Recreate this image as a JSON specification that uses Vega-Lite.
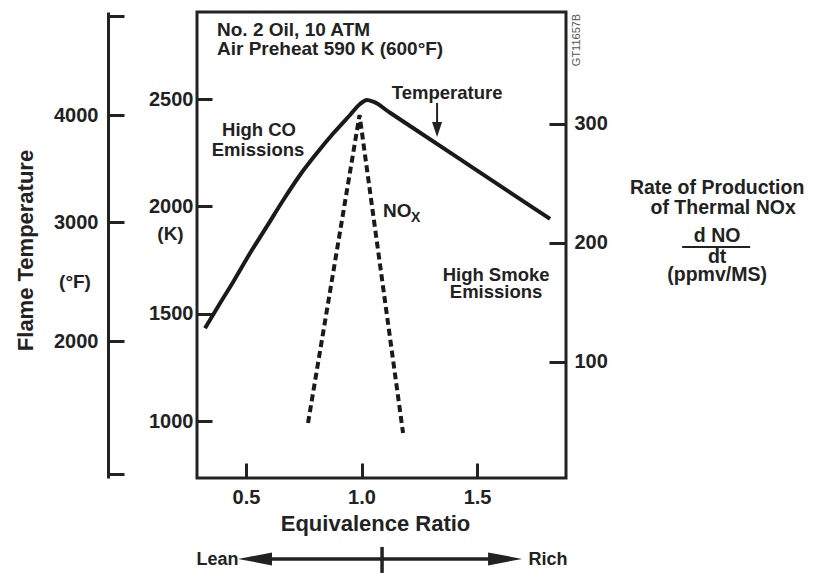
{
  "$schema": "https://vega.github.io/schema/vega-lite/v6.json",
  "width": 369,
  "height": 466,
  "autosize": {"type": "none"},
  "padding": {"left": 197, "top": 12, "right": 264, "bottom": 95},
  "background": "white",
  "config": {
    "view": {"stroke": "#222", "strokeWidth": 3},
    "font": "Liberation Sans",
    "axis": {
      "labelFont": "Liberation Sans", "labelFontWeight": "bold", "labelFontSize": 20, "labelColor": "#222",
      "titleFont": "Liberation Sans", "titleFontWeight": "bold", "titleColor": "#222",
      "tickColor": "#222", "tickWidth": 3, "domainColor": "#222", "domainWidth": 3, "grid": false
    },
    "text": {"font": "Liberation Sans", "fontWeight": "bold", "color": "#222"}
  },
  "datasets": {
    "temp": [
      {"phi": 0.3226, "K": 1433.6}, {"phi": 0.3876, "K": 1549.9}, {"phi": 0.4451, "K": 1650.3},
      {"phi": 0.5174, "K": 1782.4}, {"phi": 0.5897, "K": 1906.1}, {"phi": 0.6616, "K": 2030.3},
      {"phi": 0.7339, "K": 2146.6}, {"phi": 0.8062, "K": 2247.5}, {"phi": 0.8781, "K": 2340.5},
      {"phi": 0.9503, "K": 2425.6}, {"phi": 0.9936, "K": 2476.8}, {"phi": 1.0226, "K": 2495.4},
      {"phi": 1.0512, "K": 2487.5}, {"phi": 1.1235, "K": 2435.9}, {"phi": 1.4698, "K": 2188.9},
      {"phi": 1.8161, "K": 1942}
    ],
    "nox": [
      {"phi": 0.7685, "R": 48.7}, {"phi": 0.9915, "R": 307.5}, {"phi": 1.1798, "R": 40.3}
    ],
    "annCenter": [
      {"text": "High CO", "phi": 0.5564, "K": 2356},
      {"text": "Emissions", "phi": 0.552, "K": 2263},
      {"text": "High Smoke", "phi": 1.5824, "K": 1683},
      {"text": "Emissions", "phi": 1.5824, "K": 1601},
      {"text": "Temperature", "phi": 1.3703, "K": 2528}
    ],
    "annLeft": [
      {"text": "No. 2 Oil, 10 ATM", "phi": 0.3746, "K": 2821},
      {"text": "Air Preheat 590 K (600°F)", "phi": 0.3746, "K": 2732.6},
      {"text": "NO", "phi": 1.0932, "K": 1979}
    ],
    "annSub": [
      {"text": "X", "phi": 1.2144, "K": 1946.6}
    ],
    "annRight": [
      {"text": "Rate of Production", "phi": 2.5391, "K": 2084},
      {"text": "of Thermal NOx", "phi": 2.5651, "K": 1994},
      {"text": "d NO", "phi": 2.5391, "K": 1862.9},
      {"text": "dt", "phi": 2.5391, "K": 1765.2},
      {"text": "(ppmv/MS)", "phi": 2.5391, "K": 1679}
    ],
    "annLeanRich": [
      {"text": "Lean", "phi": 0.3767, "K": 356},
      {"text": "Rich", "phi": 1.8075, "K": 356}
    ],
    "annCode": [
      {"text": "GT11657B", "phi": 1.933, "K": 2774.5}
    ],
    "rulesThin": [
      {"phi": 2.3876, "phi2": 2.682, "K": 1811.7, "K2": 1811.7},
      {"phi": 1.327, "phi2": 1.327, "K": 2481.5, "K2": 2388}
    ],
    "rulesThick": [
      {"phi": 0.5174, "phi2": 1.578, "K": 360.6, "K2": 360.6},
      {"phi": 1.0889, "phi2": 1.0889, "K": 416.4, "K2": 295.5}
    ],
    "headDown": [
      {"phi": 1.327, "K": 2358.2}
    ],
    "headSide": [
      {"dir": "left", "phi": 0.5391, "K": 360.6},
      {"dir": "right", "phi": 1.6213, "K": 360.6}
    ],
    "fLabel": [
      {"text": "(°F)", "phi": -0.24, "F": 2495.8}
    ]
  },
  "encoding": {
    "x": {
      "field": "phi", "type": "quantitative",
      "scale": {"domain": [0.288, 1.885], "nice": false, "zero": false},
      "axis": {
        "values": [0.5, 1.0, 1.5], "format": ".1f", "domain": false,
        "tickSize": -15, "labelPadding": 24.5,
        "title": "Equivalence Ratio", "titleFontSize": 22,
        "titleX": 178, "titleY": 52, "titleAlign": "center", "titleBaseline": "alphabetic"
      }
    }
  },
  "resolve": {"scale": {"y": "independent"}, "axis": {"y": "independent"}},
  "layer": [
    {
      "encoding": {
        "y": {
          "field": "K", "type": "quantitative",
          "scale": {"domain": [737, 2904.7], "nice": false, "zero": false},
          "axis": {
            "orient": "left", "values": [1000, 1500, 2000, 2500], "format": "d", "domain": false,
            "tickSize": -15, "labelPadding": 19,
            "title": "(K)", "titleFontSize": 19, "titleAngle": 0,
            "titleX": -27, "titleY": 221, "titleAlign": "center", "titleBaseline": "middle"
          }
        }
      },
      "layer": [
        {"data": {"name": "temp"}, "mark": {"type": "line", "interpolate": "monotone", "strokeWidth": 4, "color": "#1a1a1a", "strokeJoin": "round"}},
        {"data": {"name": "annCenter"}, "mark": {"type": "text", "fontSize": 18.5, "align": "center", "baseline": "middle"}, "encoding": {"text": {"field": "text"}}},
        {"data": {"name": "annLeft"}, "mark": {"type": "text", "fontSize": 19, "align": "left", "baseline": "middle"}, "encoding": {"text": {"field": "text"}}},
        {"data": {"name": "annSub"}, "mark": {"type": "text", "fontSize": 14, "align": "left", "baseline": "middle"}, "encoding": {"text": {"field": "text"}}},
        {"data": {"name": "annRight"}, "mark": {"type": "text", "fontSize": 19.5, "align": "center", "baseline": "middle"}, "encoding": {"text": {"field": "text"}}},
        {"data": {"name": "annLeanRich"}, "mark": {"type": "text", "fontSize": 18, "align": "center", "baseline": "middle"}, "encoding": {"text": {"field": "text"}}},
        {"data": {"name": "annCode"}, "mark": {"type": "text", "fontSize": 11, "fontWeight": "normal", "color": "#555", "angle": 270, "align": "center", "baseline": "middle"}, "encoding": {"text": {"field": "text"}}},
        {"data": {"name": "rulesThin"}, "mark": {"type": "rule", "strokeWidth": 2, "color": "#222"}, "encoding": {"x2": {"field": "phi2"}, "y2": {"field": "K2"}}},
        {"data": {"name": "rulesThick"}, "mark": {"type": "rule", "strokeWidth": 3.5, "color": "#222"}, "encoding": {"x2": {"field": "phi2"}, "y2": {"field": "K2"}}},
        {"data": {"name": "headDown"}, "mark": {"type": "point", "filled": true, "opacity": 1, "color": "#222", "size": 225, "shape": "M -0.67 -1 L 0.67 -1 L 0 1 Z"}},
        {"data": {"name": "headSide"}, "mark": {"type": "point", "filled": true, "opacity": 1, "color": "#222", "size": 1156},
         "encoding": {"shape": {"field": "dir", "type": "nominal", "scale": {"domain": ["left", "right"], "range": ["M -1 0 L 1 -0.38 L 1 0.38 Z", "M 1 0 L -1 -0.38 L -1 0.38 Z"]}, "legend": null}}}
      ]
    },
    {
      "data": {"name": "nox"},
      "mark": {"type": "line", "strokeWidth": 4, "color": "#1a1a1a", "strokeDash": [7, 4]},
      "encoding": {
        "y": {
          "field": "R", "type": "quantitative",
          "scale": {"domain": [2.5, 394.1], "nice": false, "zero": false},
          "axis": {
            "orient": "right", "values": [100, 200, 300], "format": "d", "domain": false,
            "tickSize": -17, "labelPadding": 25, "title": null
          }
        }
      }
    },
    {
      "data": {"name": "fLabel"},
      "mark": {"type": "text", "fontSize": 19, "align": "center", "baseline": "middle"},
      "encoding": {
        "text": {"field": "text"},
        "y": {
          "field": "F", "type": "quantitative",
          "scale": {"domain": [800, 2000, 3000, 4000, 4960], "range": [466, 329, 210, 103, 0], "nice": false, "zero": false},
          "axis": {
            "orient": "left", "offset": 89, "values": [835, 2000, 3000, 4000, 4923],
            "labelExpr": "datum.value == 2000 || datum.value == 3000 || datum.value == 4000 ? format(datum.value, 'd') : ''",
            "domain": true, "tickSize": -16, "labelPadding": 26,
            "title": "Flame Temperature", "titleFontSize": 22, "titleAngle": 270,
            "titleX": -76, "titleY": 238, "titleAlign": "center", "titleBaseline": "alphabetic"
          }
        }
      }
    }
  ]
}
